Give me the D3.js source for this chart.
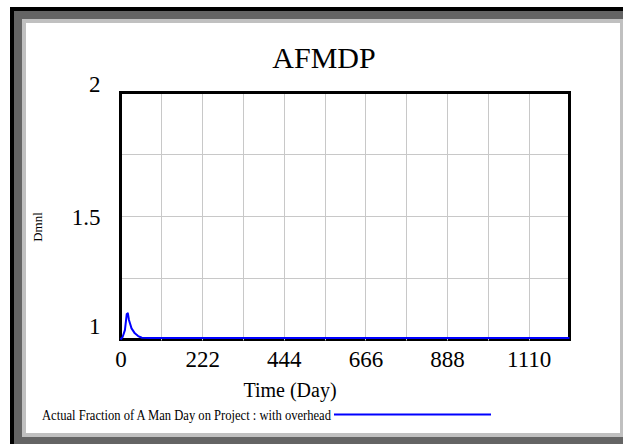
<!DOCTYPE html>
<html>
<head>
<meta charset="utf-8">
<script src="https://cdn.jsdelivr.net/npm/d3@7"></script>
<style>
  html, body { margin: 0; padding: 0; background: #fff; overflow: hidden; }
  svg { display: block; }
  text { font-family: "Liberation Serif", "Times New Roman", serif; fill: #000; }
</style>
</head>
<body>
<script>
// ---- data ----
const chartTitle = "AFMDP";
const xLabel = "Time (Day)";
const yLabel = "Dmnl";
const seriesName = "Actual Fraction of A Man Day on Project : with overhead";
const days =   [0,    6,     12,    17,    20,    23,    30,    39,    48,    58,    80,    150,   300,   600,   900,   1221];
const values = [1.0,  1.011, 1.038, 1.103, 1.106, 1.079, 1.045, 1.025, 1.014, 1.007, 1.006, 1.006, 1.006, 1.006, 1.006, 1.006];
const xTickValues = [0, 222, 444, 666, 888, 1110];
const xGridValues = [111, 222, 333, 444, 555, 666, 777, 888, 999, 1110];
const yTickValues = [1, 1.5, 2];
const yGridValues = [1.25, 1.5, 1.75];
const xDomain = [0, 1221];
const yDomain = [1, 2];

// ---- layout ----
const W = 623, H = 444;
const plot = { left: 120.5, top: 92.5, right: 569.5, bottom: 339.5 };

const svg = d3.select("body").append("svg").attr("width", W).attr("height", H);

// window frame
svg.append("rect").attr("x", 0).attr("y", 0).attr("width", W).attr("height", H).attr("fill", "#fff");
svg.append("rect").attr("x", 10).attr("y", 7).attr("width", W).attr("height", H).attr("fill", "#000");
svg.append("rect").attr("x", 14).attr("y", 11).attr("width", W).attr("height", H).attr("fill", "#646464");
svg.append("rect").attr("x", 22).attr("y", 19).attr("width", W).attr("height", 437 - 19).attr("fill", "#c0c0c0");
svg.append("rect").attr("x", 26).attr("y", 23).attr("width", 620 - 26).attr("height", 433 - 23).attr("fill", "#fff");

const x = d3.scaleLinear().domain(xDomain).range([plot.left, plot.right]);
const y = d3.scaleLinear().domain(yDomain).range([plot.bottom, plot.top]);

// grid
const grid = svg.append("g").attr("stroke", "#c8c8c8").attr("stroke-width", 1);
grid.selectAll("line.v").data(xGridValues).enter().append("line")
  .attr("x1", d => Math.round(x(d)) + 0.5).attr("x2", d => Math.round(x(d)) + 0.5)
  .attr("y1", plot.top).attr("y2", plot.bottom);
grid.selectAll("line.h").data(yGridValues).enter().append("line")
  .attr("y1", d => Math.round(y(d)) + 0.5).attr("y2", d => Math.round(y(d)) + 0.5)
  .attr("x1", plot.left).attr("x2", plot.right);

// plot border
svg.append("rect")
  .attr("x", plot.left).attr("y", plot.top)
  .attr("width", plot.right - plot.left).attr("height", plot.bottom - plot.top)
  .attr("fill", "none").attr("stroke", "#000").attr("stroke-width", 3);

// small grid ticks on the bottom border
svg.append("g").attr("stroke", "#c8c8c8").attr("stroke-width", 1)
  .selectAll("line").data(xGridValues).enter().append("line")
  .attr("x1", d => Math.round(x(d)) + 0.5).attr("x2", d => Math.round(x(d)) + 0.5)
  .attr("y1", plot.bottom - 1).attr("y2", plot.bottom + 1);

// series line
const pts = days.map((d, i) => [d, values[i]]);
svg.append("path")
  .datum(pts)
  .attr("fill", "none").attr("stroke", "#0000ff").attr("stroke-width", 2)
  .attr("stroke-linejoin", "round")
  .attr("d", d3.line().x(d => x(d[0])).y(d => y(d[1])));

// x axis labels (via d3 axis)
const xAxis = svg.append("g").attr("transform", `translate(0,${plot.bottom})`)
  .call(d3.axisBottom(x).tickValues(xTickValues).tickSize(0).tickPadding(0).tickFormat(d3.format("d")));
xAxis.select(".domain").remove();
xAxis.selectAll("text").attr("font-family", "Liberation Serif").attr("font-size", 23)
  .attr("dy", null).attr("y", 27.5).attr("fill", "#000");

// y axis labels
const yAxis = svg.append("g").attr("transform", `translate(${plot.left},0)`)
  .call(d3.axisLeft(y).tickValues(yTickValues).tickSize(0).tickPadding(20).tickFormat(d => String(d)));
yAxis.select(".domain").remove();
yAxis.selectAll(".tick").attr("transform", d => {
  const offs = d === 2 ? -9 : (d === 1 ? -14 : 1);
  return `translate(0,${y(d) + offs})`;
});
yAxis.selectAll("text").attr("font-family", "Liberation Serif").attr("font-size", 23)
  .attr("dy", "0.35em").attr("fill", "#000");

// title
svg.append("text").attr("x", 324).attr("y", 68).attr("text-anchor", "middle")
  .attr("font-size", 30).text(chartTitle);

// x label
svg.append("text").attr("x", 290).attr("y", 397).attr("text-anchor", "middle")
  .attr("font-size", 20).text(xLabel);

// y label
svg.append("text").attr("transform", "translate(41.5,227) rotate(-90)").attr("text-anchor", "middle")
  .attr("font-size", 13).text(yLabel);

// legend
svg.append("text").attr("x", 42).attr("y", 420).attr("font-size", 14.5)
  .attr("textLength", 289).attr("lengthAdjust", "spacingAndGlyphs").text(seriesName);
svg.append("line").attr("x1", 334).attr("x2", 491).attr("y1", 414.5).attr("y2", 414.5)
  .attr("stroke", "#0000ff").attr("stroke-width", 2);
</script>
</body>
</html>
